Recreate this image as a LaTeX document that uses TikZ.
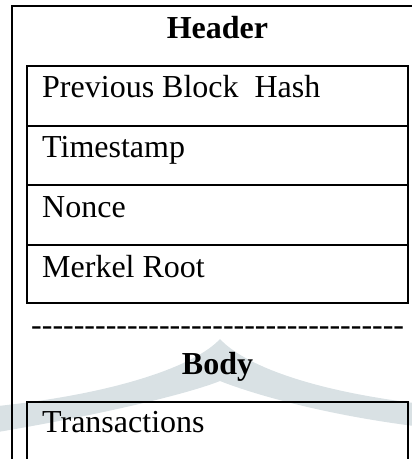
\documentclass[tikz,border=0pt]{standalone}
\usepackage{fontspec}
\newfontfamily\tnr{Liberation Serif}[Ligatures=TeXOff]
\definecolor{wmark}{RGB}{217,225,228}
\begin{document}
\begin{tikzpicture}[x=1pt,y=-1pt,
  frame/.style={draw=black,line width=1.9pt},
  rowbox/.style={draw=black,line width=1.8pt,rectangle,inner sep=0pt,outer sep=0pt,minimum width=381pt},
  lbl/.style={anchor=base west,inner sep=0pt,font=\tnr\fontsize{32}{36}\selectfont},
  ttl/.style={anchor=base,inner sep=0pt,font=\tnr\bfseries\fontsize{32}{36}\selectfont}]
\useasboundingbox (0,0) rectangle (412,459);
\clip (0,0) rectangle (412,459);
% watermark band
\fill[wmark] (-2,406) .. controls (120,393) and (196,365) .. (220,339)
  .. controls (244,365) and (310,390) .. (414,403)
  -- (414,426) .. controls (320,414) and (250,393) .. (220,381)
  .. controls (190,393) and (110,413) .. (-2,432) -- cycle;
% outer frame
\node[frame,rectangle,inner sep=0pt,outer sep=0pt,minimum width=411pt,minimum height=480pt,anchor=north west] (outer) at (12,6) {};
\node[ttl] (header) at (217.5,38.5) {Header};
% header rows
\node[rowbox,minimum height=60pt,anchor=north west] (r1) at (27,66) {};
\node[rowbox,minimum height=59pt,anchor=north west] (r2) at (r1.south west) {};
\node[rowbox,minimum height=60pt,anchor=north west] (r3) at (r2.south west) {};
\node[rowbox,minimum height=58pt,anchor=north west] (r4) at (r3.south west) {};
\node[lbl] (t1) at (42,97) {Previous Block\ \ Hash};
\node[lbl] (t2) at (42,157) {Timestamp};
\node[lbl] (t3) at (42,217) {Nonce};
\node[lbl] (t4) at (42,277) {Merkel Root};
% separator
\node[lbl] (sep) at (31,335) {-----------------------------------};
\node[ttl] (body) at (217.5,374) {Body};
\node[rowbox,minimum height=90pt,anchor=north west] (r5) at (27,402) {};
\node[lbl] (t5) at (42,432) {Transactions};
\end{tikzpicture}
\end{document}
